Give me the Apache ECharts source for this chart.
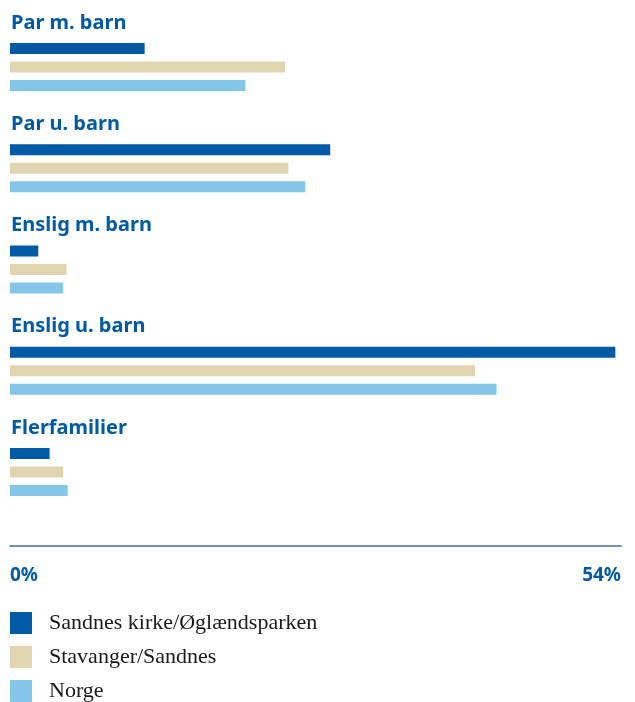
<!DOCTYPE html>
<html><head><meta charset="utf-8">
<script src="https://cdn.jsdelivr.net/npm/echarts@6/dist/echarts.min.js"></script>
<style>html,body{margin:0;padding:0;background:#fff}#c{width:635px;height:702px}</style>
</head><body><div id="c"></div>
<script>
const categories = ["Par m. barn", "Par u. barn", "Enslig m. barn", "Enslig u. barn", "Flerfamilier"];
const seriesNames = ["Sandnes kirke/Øglændsparken", "Stavanger/Sandnes", "Norge"];
const sandnesKirke = [11.9, 28.3, 2.5, 53.5, 3.5];
const stavangerSandnes = [24.3, 24.6, 5.0, 41.1, 4.7];
const norge = [20.8, 26.1, 4.7, 43.0, 5.1];
const axisMax = 54;
const colors = ["#005aa4", "#e1d5b0", "#83c6e8"];

const chart = echarts.init(document.getElementById('c'), null, {renderer: 'canvas'});
const blue = "#005aa4";
chart.setOption({
  animation: false,
  grid: {left: 10, right: 14, top: 16.4, bottom: 702 - 522.6},
  xAxis: {
    type: 'value', min: 0, max: axisMax, interval: axisMax,
    offset: 23,
    axisLine: {show: true, lineStyle: {color: '#7d90bd', width: 2}},
    axisTick: {show: false},
    splitLine: {show: false},
    axisLabel: {
      formatter: '{value}%', color: blue, fontFamily: 'Noto Sans', fontWeight: 'bold', fontSize: 19,
      margin: 20, alignMinLabel: 'left', alignMaxLabel: 'right'
    }
  },
  yAxis: {
    type: 'category', data: categories, inverse: true,
    axisLine: {show: false}, axisTick: {show: false},
    axisLabel: {
      inside: true, margin: 1, align: 'left', verticalAlign: 'middle',
      formatter: v => '{t|' + v + '}\n{s|}',
      rich: {
        t: {color: blue, fontFamily: 'Noto Sans', fontWeight: 'bold', fontSize: 20, lineHeight: 24},
        s: {lineHeight: 88, fontSize: 1}
      }
    }
  },
  legend: {
    orient: 'vertical', left: 10, top: 612, itemWidth: 22, itemHeight: 22, itemGap: 12,
    padding: 0, icon: 'rect',
    textStyle: {fontFamily: 'Liberation Serif', fontSize: 22, lineHeight: 22, color: '#1a1a1a', padding: [0, 0, 0, 12]},
    data: seriesNames
  },
  series: [sandnesKirke, stavangerSandnes, norge].map((d, i) => ({
    name: seriesNames[i], type: 'bar', data: d, barWidth: 11, barGap: '68%',
    itemStyle: {color: colors[i]}
  }))
});
</script></body></html>
